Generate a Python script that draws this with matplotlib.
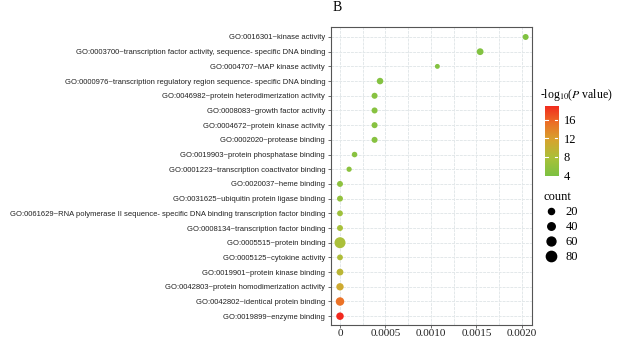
import numpy as np
import matplotlib
matplotlib.use("Agg")
import matplotlib.pyplot as plt
from matplotlib.colors import LinearSegmentedColormap, Normalize
from matplotlib.lines import Line2D

plt.rcParams['mathtext.fontset'] = 'stix'

# GO terms, top to bottom
terms = [
    "GO:0016301~kinase activity",
    "GO:0003700~transcription factor activity, sequence- specific DNA binding",
    "GO:0004707~MAP kinase activity",
    "GO:0000976~transcription regulatory region sequence- specific DNA binding",
    "GO:0046982~protein heterodimerization activity",
    "GO:0008083~growth factor activity",
    "GO:0004672~protein kinase activity",
    "GO:0002020~protease binding",
    "GO:0019903~protein phosphatase binding",
    "GO:0001223~transcription coactivator binding",
    "GO:0020037~heme binding",
    "GO:0031625~ubiquitin protein ligase binding",
    "GO:0061629~RNA polymerase II sequence- specific DNA binding transcription factor binding",
    "GO:0008134~transcription factor binding",
    "GO:0005515~protein binding",
    "GO:0005125~cytokine activity",
    "GO:0019901~protein kinase binding",
    "GO:0042803~protein homodimerization activity",
    "GO:0042802~identical protein binding",
    "GO:0019899~enzyme binding",
]
pvalue = [0.00204, 0.00154, 0.00107, 0.00044, 0.00038, 0.00038, 0.00038, 0.00038,
          0.00016, 0.00010, 0.0, 0.0, 0.0, 0.0, 0.0, 0.0, 0.0, 0.0, 0.0, 0.0]
neglog = [4.2, 4.4, 4.6, 4.6, 4.8, 4.8, 4.8, 4.9, 5.0, 5.2, 5.4, 5.8,
          6.8, 7.6, 7.8, 8.2, 9.2, 10.8, 15.0, 19.0]
count = [18, 30, 3, 26, 19, 19, 19, 19, 12, 8, 18, 18,
         16, 18, 90, 16, 30, 38, 54, 40]

legend_counts = [20, 40, 60, 80]


def diam_pt(c):
    # pixel diameter -> points (dpi 100)
    return (4.7 + 0.07 * np.asarray(c)) * 0.72


cmap = LinearSegmentedColormap.from_list(
    "go", ["#7CC242", "#A9C13A", "#D6A52F", "#EC6F26", "#F2281E"])
norm = Normalize(vmin=3.9, vmax=19.0)

fig = plt.figure(figsize=(6.19, 3.4), dpi=100)
ax = fig.add_axes([331 / 619, 1 - 325 / 340, 201 / 619, 298 / 340])

n = len(terms)
ypos = np.arange(n)[::-1]
ax.scatter(pvalue, ypos, s=diam_pt(count) ** 2, c=neglog, cmap=cmap, norm=norm,
           edgecolors='none', zorder=3)

ax.set_yticks(ypos)
ax.set_yticklabels(terms, fontsize=5.5, family='Liberation Sans', color='#222222')
ax.set_xticks([0, 0.0005, 0.0010, 0.0015, 0.0020])
ax.set_xticklabels(['0', '0.0005', '0.0010', '0.0015', '0.0020'],
                   fontsize=8, family='Liberation Serif', color='#222222')
ax.set_xticks([0.00025, 0.00075, 0.00125, 0.00175], minor=True)
ax.set_xlim(-0.0000989, 0.00211)
ax.set_ylim(-0.6, n - 1 + 0.68)

ax.grid(True, which='both', color='#e3e8ea', linewidth=0.7, linestyle=(0, (3, 1)), zorder=0)
ax.set_axisbelow(True)
ax.tick_params(axis='both', which='major', length=2.2, width=0.6, color='#555555')
ax.tick_params(axis='y', pad=2)
ax.tick_params(axis='x', pad=0.5)
ax.tick_params(axis='x', which='minor', length=0)
for sp in ax.spines.values():
    sp.set_color('#555555')
    sp.set_linewidth(0.8)

# colour bar
cax = fig.add_axes([545 / 619, 1 - 176 / 340, 13 / 619, 70 / 340])
grad = np.linspace(norm.vmin, norm.vmax, 256).reshape(-1, 1)
cax.imshow(grad, aspect='auto', cmap=cmap, norm=norm, origin='lower',
           extent=[0, 1, norm.vmin, norm.vmax])
cax.set_xticks([])
cax.yaxis.tick_right()
cax.set_yticks([4, 8, 12, 16])
cax.set_yticklabels(['4', '8', '12', '16'], fontsize=9, family='Liberation Serif')
cax.tick_params(axis='y', length=0, pad=4)
for t in [8, 12, 16]:
    cax.plot([0, 0.2], [t, t], color='white', lw=0.8)
    cax.plot([0.8, 1], [t, t], color='white', lw=0.8)
cax.set_xlim(0, 1)
cax.set_ylim(norm.vmin, norm.vmax)
for sp in cax.spines.values():
    sp.set_visible(False)

fig.text(540 / 619, 1 - 95 / 340, r'-log$_{10}$($\mathit{P}$ value)', fontsize=8.5,
         family='Liberation Serif', va='center', ha='left')

# size legend
handles = [Line2D([], [], linestyle='none', marker='o', color='black',
                  markersize=float(diam_pt(c))) for c in legend_counts]
leg = fig.legend(handles, [str(c) for c in legend_counts], loc='upper left',
                 bbox_to_anchor=(543 / 619, 1 - 191 / 340), frameon=False,
                 title='count', prop={'family': 'Liberation Serif', 'size': 9},
                 labelspacing=0.25, handletextpad=0.5, handlelength=1.3,
                 borderpad=0, borderaxespad=0)
leg.get_title().set_fontfamily('Liberation Serif')
leg.get_title().set_fontsize(9)
leg._legend_box.align = 'left'

fig.text(333 / 619, 0.997, 'B', fontsize=10, family='Liberation Serif',
         va='top', ha='left')

fig.savefig('out.png', dpi=100)
